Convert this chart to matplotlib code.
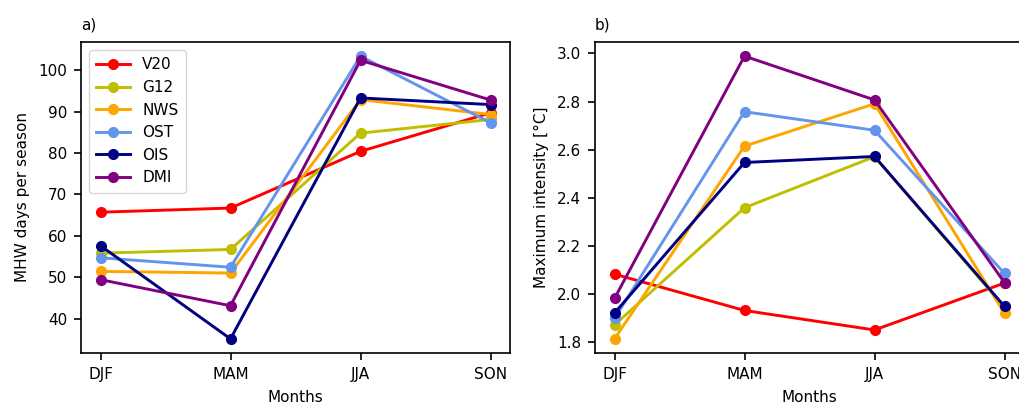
import numpy as np
import matplotlib.pyplot as plt

seasons = ['DJF', 'MAM', 'JJA', 'SON']
names = ['V20', 'G12', 'NWS', 'OST', 'OIS', 'DMI']
colors = ['red', 'y', 'orange', 'cornflowerblue', 'navy', 'purple']

# MHW days per season
days_v20 = [65.7, 66.7, 80.4, 89.7]
days_g12 = [55.8, 56.7, 84.8, 88.1]
days_nws = [51.4, 51.0, 92.9, 89.3]
days_ost = [54.7, 52.4, 103.4, 87.3]
days_ois = [57.6, 35.1, 93.3, 91.7]
days_dmi = [49.4, 43.1, 102.4, 92.8]

# maximum intensity (degC)
imax_v20 = [2.083, 1.932, 1.851, 2.046]
imax_g12 = [1.872, 2.359, 2.571, 1.945]
imax_nws = [1.814, 2.615, 2.791, 1.921]
imax_ost = [1.899, 2.758, 2.681, 2.086]
imax_ois = [1.921, 2.547, 2.572, 1.949]
imax_dmi = [1.982, 2.989, 2.807, 2.048]

days = [days_v20, days_g12, days_nws, days_ost, days_ois, days_dmi]
imax = [imax_v20, imax_g12, imax_nws, imax_ost, imax_ois, imax_dmi]

plt.rcParams['font.size'] = 11
plt.rcParams['axes.linewidth'] = 1.2
plt.rcParams['xtick.major.size'] = 5
plt.rcParams['ytick.major.size'] = 5
plt.rcParams['xtick.major.width'] = 1.2
plt.rcParams['ytick.major.width'] = 1.2
plt.rcParams['xtick.major.pad'] = 5
plt.rcParams['ytick.major.pad'] = 5
plt.rcParams['axes.labelpad'] = 6

fig = plt.figure(figsize=(10.19, 4.05), dpi=100)
ax1 = fig.add_axes([81 / 1019, 1 - 353 / 405, 429 / 1019, 311 / 405])
ax2 = fig.add_axes([595 / 1019, 1 - 353 / 405, 429 / 1019, 311 / 405])

x = np.arange(len(seasons))
for vals, name, c in zip(days, names, colors):
    ax1.plot(x, vals, '-o', color=c, lw=2.1, ms=7, label=name)
for vals, name, c in zip(imax, names, colors):
    ax2.plot(x, vals, '-o', color=c, lw=2.1, ms=7, label=name)

for ax in (ax1, ax2):
    ax.set_xticks(x)
    ax.set_xticklabels(seasons)
    ax.set_xlabel('Months')

ax1.set_ylabel('MHW days per season')
ax2.set_ylabel('Maximum intensity [°C]')
ax1.set_title('a)', loc='left', fontsize=11, pad=9)
ax2.set_title('b)', loc='left', fontsize=11, pad=9)
ax1.legend(loc='upper left', borderpad=0.5, handlelength=2.2)

fig.savefig('out.png', dpi=100)
